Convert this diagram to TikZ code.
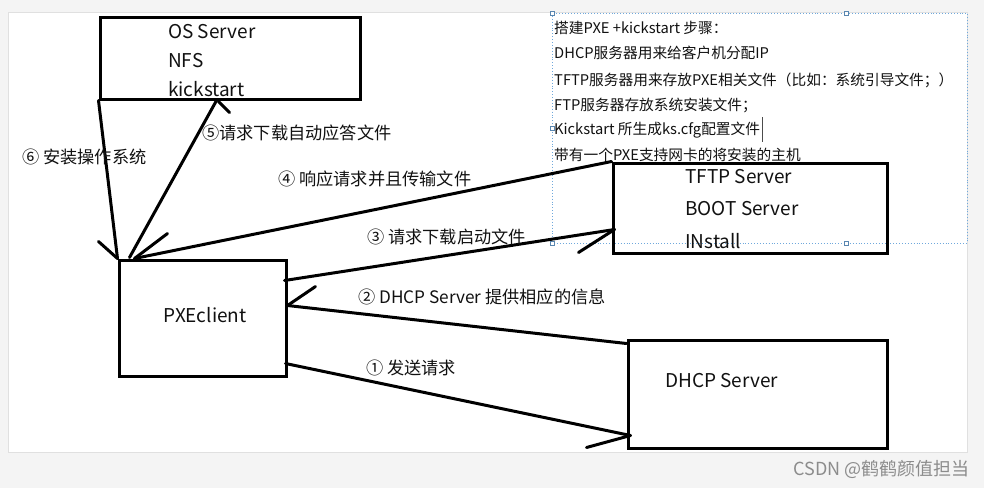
\documentclass[tikz,border=0pt]{standalone}
\usepackage{fontspec}
\setmainfont{Noto Sans CJK SC}
\usetikzlibrary{calc}
\definecolor{bg}{HTML}{F4F4F4}
\definecolor{notecol}{HTML}{6FA8DC}
\definecolor{ink}{HTML}{111111}
\begin{document}
\begin{tikzpicture}[x=1pt,y=-1pt,
  box/.style={draw=black, line width=3pt, inner sep=0pt},
  conn/.style={draw=black, line width=3pt, line cap=round},
  boxtext/.style={anchor=west, inner sep=0pt, text=ink, font=\fontsize{19}{22}\selectfont},
  lbl/.style={anchor=west, inner sep=0pt, text=ink, font=\fontsize{17.2}{20}\selectfont},
  note/.style={anchor=west, inner sep=0pt, text=ink, font=\fontsize{14.7}{18}\selectfont},
  handle/.style={draw=notecol!80!black, fill=white, line width=0.5pt, minimum size=3.5pt, inner sep=0pt}]
\useasboundingbox[fill=bg] (0,0) rectangle (984,488);
% panel
\draw[fill=white, draw=black!12] (8,12) rectangle (967,452);
% note frame
\draw[notecol, dotted, line width=0.9pt] (552,13) rectangle (967,243);
\foreach \p/\n in {{(552,13)/h1},{(846,13)/h2},{(552,128)/h3},{(552,243)/h4},{(846,243)/h5}}
  \node[handle] (\n) at \p {};
% note text
\node[note] (n1) at (554,28) {搭建PXE +kickstart 步骤：};
\node[note] (n2) at (554,53) {DHCP服务器用来给客户机分配IP};
\node[note] (n3) at (554,80) {TFTP服务器用来存放PXE相关文件（比如：系统引导文件；）};
\node[note] (n4) at (554,105) {FTP服务器存放系统安装文件；};
\node[note] (n5) at (554,130) {Kickstart 所生成ks.cfg配置文件};
\node[note] (n6) at (554,155) {带有一个PXE支持网卡的将安装的主机};
\coordinate (cur1) at ($(n5.east)+(2,-13)$);
\coordinate (cur2) at ($(n5.east)+(2,12)$);
\draw[black!70, line width=0.8pt] (cur1) -- (cur2);
% boxes
\node[box, minimum width=260pt, minimum height=82pt] (os) at (230,58) {};
\node[box, minimum width=274pt, minimum height=90pt] (tftp) at (750,208) {};
\node[box, minimum width=167pt, minimum height=116pt] (pxe) at (202.5,318) {};
\node[box, minimum width=259pt, minimum height=108pt] (dhcp) at (757.5,394) {};
% box texts
\node[boxtext] (t1) at (168,32) {OS Server};
\node[boxtext] (t2) at (168,61) {NFS};
\node[boxtext] (t3) at (168,89) {kickstart};
\node[boxtext] (t4) at (685,177) {TFTP Server};
\node[boxtext] (t5) at (685,209) {BOOT Server};
\node[boxtext] (t6) at (685,241) {INstall};
\node[inner sep=0pt, text=ink, font=\fontsize{19}{22}\selectfont] (t7) at (205,315) {PXEclient};
\node[boxtext] (t8) at (665,381) {DHCP Server};
% connector points
\coordinate (p5s) at ($(pxe.north west)+(12,-1)$);
\coordinate (p5e) at ($(os.south west)+(118,0)$);
\coordinate (p4e) at ($(pxe.north west)+(17,0)$);
\coordinate (p3s) at ($(pxe.north east)+(-3,22)$);
\coordinate (p3e) at ($(tftp.south west)+(3,-25)$);
\coordinate (p2s) at ($(dhcp.north west)+(0,5)$);
\coordinate (p2e) at ($(pxe.north east)+(0,47)$);
\coordinate (p1s) at ($(pxe.south east)+(-2,-14)$);
\coordinate (p1e) at ($(dhcp.south west)+(4,-14)$);
% connectors
\draw[conn] (os.south west) -- (pxe.north west);
\draw[conn] (pxe.north west) -- ++(-19,-17);
\draw[conn] (p5s) -- (p5e);
\draw[conn] ($(p5e)+(2,1)$) -- ++(11,11);
\draw[conn] (tftp.north west) -- (p4e);
\draw[conn] (p4e) -- ++(33,-25);
\draw[conn] (p3s) -- (p3e);
\draw[conn] (p3e) -- ++(-36,23);
\draw[conn] (p2s) -- (p2e);
\draw[conn] (p2e) -- ++(28,-19);
\draw[conn] (p1s) -- (p1e);
\draw[conn] (p1e) -- ++(-44,12);
% labels
\node[lbl] (l6) at (22,157) {⑥ 安装操作系统};
\node[lbl] (l5) at (202,133) {⑤请求下载自动应答文件};
\node[lbl] (l4) at (278,179) {④ 响应请求并且传输文件};
\node[lbl] (l3) at (367,237) {③ 请求下载启动文件};
\node[lbl] (l2) at (358,297) {② DHCP Server 提供相应的信息};
\node[lbl] (l1) at (366,368) {① 发送请求};
% watermark
\node[anchor=east, inner sep=0pt, text=black!45, font=\fontsize{18}{20}\selectfont] (wm) at (970,469) {CSDN @鹤鹤颜值担当};
\end{tikzpicture}
\end{document}
